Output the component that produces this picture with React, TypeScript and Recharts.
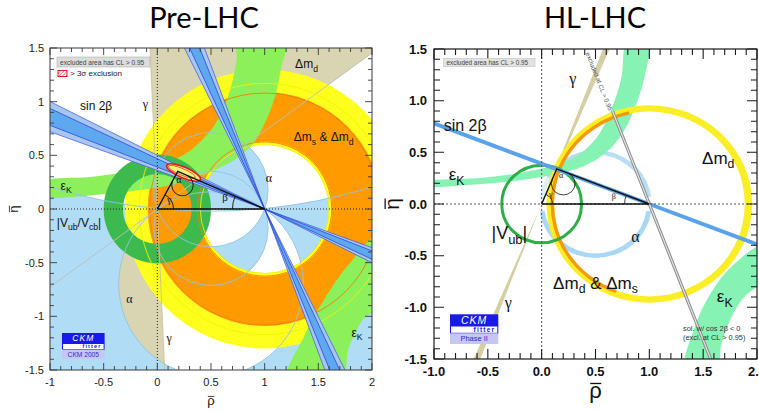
import React from 'react';
import { ComposedChart, XAxis, YAxis, ReferenceArea, Scatter } from 'recharts';

type Pt = [number, number];

// shared plot window (rho-bar, eta-bar)
const RHO_DOMAIN: Pt = [-1, 2];
const ETA_DOMAIN: Pt = [-1.5, 1.5];
const RHO_TICKS = [-1, -0.5, 0, 0.5, 1, 1.5, 2];
const ETA_TICKS = [-1.5, -1, -0.5, 0, 0.5, 1, 1.5];

// ---- Pre-LHC (CKMfitter 2005) ----
const preApex: Pt = [0.19, 0.35];
const preTriangle = [
  { rho: 0, eta: 0 },
  { rho: preApex[0], eta: preApex[1] },
  { rho: 1, eta: 0 },
  { rho: 0, eta: 0 },
];
const preGammaWedge: Pt = [36, 92.6]; // degrees seen from the origin
const preSin2Beta = [
  { dir: 156.8, outer: 3.4, inner: 1.9 },
  { dir: 113.5, outer: 3.0, inner: 1.5 },
];
const preDmd = { rIn: 0.6, rOut: 1.3 };
const preDms = { rIn: 0.63, rOut: 1.09 };
const preVub = { rIn: 0.32, rOut: 0.5 };
// alpha: circles through (0,0) and (1,0)
const preAlphaWide = { cx: 0.5, cy: -0.7, r: 0.86 };
const preAlphaFar = { cx: 0.5, cy: 5.1, r: 5.12 };
const preAlphaPair = [
  { cx: 0.5, cy: 0.18, r: 0.532 },
  { cx: 0.5, cy: -0.18, r: 0.532 },
];
const preEpsKUpper: Pt[] = [
  [-1.05, 0.265], [-0.6, 0.3], [-0.2, 0.36], [0.1, 0.44], [0.3, 0.54], [0.47, 0.7],
  [0.6, 0.9], [0.69, 1.15], [0.74, 1.4], [0.76, 1.58],
  [1.18, 1.58], [1.15, 1.3], [1.1, 1.06], [1.02, 0.84], [0.9, 0.62], [0.72, 0.46],
  [0.45, 0.33], [0.1, 0.22], [-0.4, 0.15], [-1.05, 0.108],
];
const preEpsKLower: Pt[] = [
  [1.22, -1.58], [1.36, -1.2], [1.55, -0.85], [1.78, -0.52], [2.05, -0.27],
  [2.05, -0.86], [1.9, -1.05], [1.78, -1.3], [1.7, -1.58],
];
const preExclusion = { center: [0.245, 0.34] as Pt, a: 0.17, b: 0.05, tilt: -23 };

// ---- HL-LHC (Phase II projection) ----
const hlApex: Pt = [0.14, 0.34];
const hlTriangle = [
  { rho: 0, eta: 0 },
  { rho: hlApex[0], eta: hlApex[1] },
  { rho: 1, eta: 0 },
  { rho: 0, eta: 0 },
];
const hlGamma = { dir: 68.2, half: 1.0 };
const hlSin2Beta = { dir: 158.7 };
const hlExcluded = { dir: 110.8, top: 0.9 };
const hlDmd = { rIn: 0.885, rOut: 0.955 };
const hlDms = { rIn: 0.885, rOut: 0.917, from: 102, to: 250 };
const hlVub = { r: 0.37 };
const hlAlpha = { cx: 0.5, cy: 0, rIn: 0.478, rOut: 0.522, lower: [188, 352] as Pt, upper: [8, 150] as Pt, faint: [150, 176] as Pt };
const hlEpsKUpper: Pt[] = [
  [-1.05, 0.228], [-0.6, 0.25], [-0.2, 0.3], [0.1, 0.37], [0.3, 0.45], [0.45, 0.57],
  [0.56, 0.72], [0.66, 0.95], [0.74, 1.22], [0.79, 1.58],
  [1.0, 1.58], [0.96, 1.25], [0.88, 0.97], [0.76, 0.7], [0.6, 0.5], [0.4, 0.37],
  [0.15, 0.29], [-0.2, 0.23], [-0.6, 0.19], [-1.05, 0.163],
];
const hlEpsKLower: Pt[] = [
  [1.33, -1.58], [1.42, -1.2], [1.55, -0.9], [1.75, -0.62], [2.05, -0.4],
  [2.05, -0.73], [1.88, -0.9], [1.76, -1.1], [1.67, -1.35], [1.62, -1.58],
];

const SANS = '"Liberation Sans", Arial, Helvetica, sans-serif';
const SERIF = '"Liberation Serif", "DejaVu Serif", serif';
const SKY = '#b0dcf6';
const SKY_LINE = '#93c3e4';
const TAN = '#d9d5b2';
const YELLOW = '#ffff1e';
const ORANGE = '#ff9b00';
const EPS = '#8cf05a';
const VUB = '#3dba4e';

const deg = Math.PI / 180;

type Mapper = {
  p: (r: number, e: number) => Pt;
  sx: number;
  sy: number;
  x: number;
  y: number;
  w: number;
  h: number;
};

// linear map from data to the pixel box that ReferenceArea hands us
const mapper = (x: number, y: number, w: number, h: number): Mapper => {
  const sx = w / (RHO_DOMAIN[1] - RHO_DOMAIN[0]);
  const sy = h / (ETA_DOMAIN[1] - ETA_DOMAIN[0]);
  return {
    p: (r, e) => [x + (r - RHO_DOMAIN[0]) * sx, y + (ETA_DOMAIN[1] - e) * sy],
    sx, sy, x, y, w, h,
  };
};

const n2 = (v: number) => v.toFixed(2);
const pt = (q: Pt) => `${n2(q[0])},${n2(q[1])}`;

const ellipse = (m: Mapper, cx: number, cy: number, r: number) => {
  const [X, Y] = m.p(cx, cy);
  const rx = r * m.sx;
  const ry = r * m.sy;
  return `M${n2(X + rx)},${n2(Y)}A${n2(rx)},${n2(ry)} 0 1 0 ${n2(X - rx)},${n2(Y)}A${n2(rx)},${n2(ry)} 0 1 0 ${n2(X + rx)},${n2(Y)}Z`;
};

const ring = (m: Mapper, cx: number, cy: number, r0: number, r1: number) =>
  ellipse(m, cx, cy, r1) + ellipse(m, cx, cy, r0);

const onCircle = (m: Mapper, cx: number, cy: number, r: number, a: number) =>
  m.p(cx + r * Math.cos(a * deg), cy + r * Math.sin(a * deg));

const arc = (m: Mapper, cx: number, cy: number, r: number, a0: number, a1: number) => {
  const large = a1 - a0 > 180 ? 1 : 0;
  return `M${pt(onCircle(m, cx, cy, r, a0))}A${n2(r * m.sx)},${n2(r * m.sy)} 0 ${large} 0 ${pt(onCircle(m, cx, cy, r, a1))}`;
};

const arcBand = (m: Mapper, cx: number, cy: number, r0: number, r1: number, a0: number, a1: number) => {
  const large = a1 - a0 > 180 ? 1 : 0;
  return (
    arc(m, cx, cy, r1, a0, a1) +
    `L${pt(onCircle(m, cx, cy, r0, a1))}A${n2(r0 * m.sx)},${n2(r0 * m.sy)} 0 ${large} 1 ${pt(onCircle(m, cx, cy, r0, a0))}Z`
  );
};

const wedge = (m: Mapper, apex: Pt, dir: number, half: number, len = 6) => {
  const a = m.p(apex[0], apex[1]);
  const b = m.p(apex[0] + len * Math.cos((dir - half) * deg), apex[1] + len * Math.sin((dir - half) * deg));
  const c = m.p(apex[0] + len * Math.cos((dir + half) * deg), apex[1] + len * Math.sin((dir + half) * deg));
  return `M${pt(a)}L${pt(b)}L${pt(c)}Z`;
};

const bowtie = (m: Mapper, apex: Pt, dir: number, half: number) =>
  wedge(m, apex, dir, half) + wedge(m, apex, dir + 180, half);

const ray = (m: Mapper, from: Pt, dir: number, len = 6) =>
  `M${pt(m.p(from[0], from[1]))}L${pt(m.p(from[0] + len * Math.cos(dir * deg), from[1] + len * Math.sin(dir * deg)))}`;

const fullLine = (m: Mapper, through: Pt, dir: number) =>
  ray(m, through, dir) + ray(m, through, dir + 180);

// closed Catmull-Rom outline through points read along a band's edges
const smooth = (m: Mapper, pts: Pt[]) => {
  const q = pts.map(([r, e]) => m.p(r, e));
  const n = q.length;
  let d = `M${pt(q[0])}`;
  for (let i = 0; i < n; i++) {
    const p0 = q[(i - 1 + n) % n];
    const p1 = q[i];
    const p2 = q[(i + 1) % n];
    const p3 = q[(i + 2) % n];
    const c1: Pt = [p1[0] + (p2[0] - p0[0]) / 6, p1[1] + (p2[1] - p0[1]) / 6];
    const c2: Pt = [p2[0] - (p3[0] - p1[0]) / 6, p2[1] - (p3[1] - p1[1]) / 6];
    d += `C${pt(c1)} ${pt(c2)} ${pt(p2)}`;
  }
  return d + 'Z';
};

const dirTo = (a: Pt, b: Pt) => Math.atan2(b[1] - a[1], b[0] - a[0]) / deg;

type Part = string | { sub: string };

const Label = ({
  m, at, parts, size = 12, family = SANS, anchor = 'middle', color = '#111',
}: {
  m: Mapper; at: Pt; parts: Part[]; size?: number; family?: string; anchor?: 'start' | 'middle' | 'end'; color?: string;
}) => {
  const [X, Y] = m.p(at[0], at[1]);
  const shift = size * 0.28;
  let low = false;
  return (
    <text x={X} y={Y} dy={size * 0.35} fontSize={size} textAnchor={anchor} fill={color} fontFamily={family}>
      {parts.map((p, i) => {
        if (typeof p === 'string') {
          const dy = low ? -shift : 0;
          low = false;
          return <tspan key={i} dy={dy}>{p}</tspan>;
        }
        const dy = low ? 0 : shift;
        low = true;
        return <tspan key={i} dy={dy} fontSize={size * 0.72}>{p.sub}</tspan>;
      })}
    </text>
  );
};

// frame with inward ticks on all four sides
const Frame = ({ m, color, width, minor, major }: { m: Mapper; color: string; width: number; minor: number; major: number }) => {
  let d = '';
  for (let i = -10; i <= 20; i++) {
    const len = i % 5 === 0 ? major : minor;
    const [X] = m.p(i / 10, 0);
    d += `M${n2(X)},${n2(m.y + m.h)}v${-len}M${n2(X)},${n2(m.y)}v${len}`;
  }
  for (let i = -15; i <= 15; i++) {
    const len = i % 5 === 0 ? major : minor;
    const [, Y] = m.p(0, i / 10);
    d += `M${n2(m.x)},${n2(Y)}h${len}M${n2(m.x + m.w)},${n2(Y)}h${-len}`;
  }
  return (
    <g>
      <path d={d} stroke={color} strokeWidth={width * 0.9} fill="none" />
      <rect x={m.x} y={m.y} width={m.w} height={m.h} stroke={color} strokeWidth={width} fill="none" />
    </g>
  );
};

// letter with a bar over it, optionally turned on its side
const Barred = ({ x, y, ch, size, rotate = 0 }: { x: number; y: number; ch: string; size: number; rotate?: number }) => (
  <g transform={`rotate(${rotate} ${x} ${y})`}>
    <text x={x} y={y} fontSize={size} textAnchor="middle" fontFamily={SANS} fill="#111">{ch}</text>
    <line x1={x - size * 0.24} x2={x + size * 0.26} y1={y - size * 0.66} y2={y - size * 0.66} stroke="#111" strokeWidth={size * 0.06} />
  </g>
);

const Logo = ({ x, y, w, h1, h2, h3, footer, big }: { x: number; y: number; w: number; h1: number; h2: number; h3: number; footer: string; big: number }) => (
  <g fontFamily={SANS}>
    <rect x={x} y={y} width={w} height={h1} fill="#1a1ae8" />
    <text x={x + w / 2} y={y + h1 * 0.8} fontSize={big} fontStyle="italic" fill="#fff" textAnchor="middle" letterSpacing={1}>CKM</text>
    <rect x={x + 0.5} y={y + h1} width={w - 1} height={h2} fill="#fff" stroke="#1a1ae8" strokeWidth={1} />
    <text x={x + w - 3} y={y + h1 + h2 * 0.8} fontSize={h2 * 0.9} fontWeight="bold" fill="#1a1ae8" textAnchor="end" letterSpacing={1.2}>fitter</text>
    <rect x={x} y={y + h1 + h2} width={w} height={h3} fill="#c6c6f4" />
    <text x={x + w / 2} y={y + h1 + h2 + h3 * 0.75} fontSize={h3 * 0.7} fill="#2a2ad8" textAnchor="middle">{footer}</text>
  </g>
);

const PreLhcPlot = (props: any) => {
  const { x, y, width, height } = props;
  const m = mapper(x, y, width, height);
  const [, oy] = m.p(0, 0);
  const up = `M${n2(x)},${n2(y)}H${n2(x + width)}V${n2(oy)}H${n2(x)}Z`;
  const down = `M${n2(x)},${n2(oy)}H${n2(x + width)}V${n2(y + height)}H${n2(x)}Z`;
  const pair = preAlphaPair.map((c) => ellipse(m, c.cx, c.cy, c.r)).join('');
  const gMid = (preGammaWedge[0] + preGammaWedge[1]) / 2;
  const gHalf = (preGammaWedge[1] - preGammaWedge[0]) / 2;
  const toOrigin = dirTo(preApex, [0, 0]);
  const toOne = dirTo(preApex, [1, 0]) + 360;
  const ex = m.p(preExclusion.center[0], preExclusion.center[1]);
  const upperDisk = preAlphaPair[0];
  return (
    <g fontFamily={SANS}>
      <defs>
        <clipPath id="pre-clip"><rect x={x} y={y} width={width} height={height} /></clipPath>
        <clipPath id="pre-up"><path d={up} /></clipPath>
        <clipPath id="pre-down"><path d={down} /></clipPath>
        <pattern id="pre-hatch" width={2.5} height={2.5} patternUnits="userSpaceOnUse" patternTransform="rotate(45)">
          <rect width={2.5} height={2.5} fill="#fff" />
          <line x1={0} y1={0} x2={0} y2={2.5} stroke="#ee3030" strokeWidth={1} />
        </pattern>
      </defs>
      <rect x={x} y={y} width={width} height={height} fill="#fff" />
      <g clipPath="url(#pre-clip)">
        {/* gamma */}
        <path d={bowtie(m, [0, 0], gMid, gHalf)} fill={TAN} />
        {/* alpha */}
        <g clipPath="url(#pre-up)">
          <path d={up + ellipse(m, preAlphaFar.cx, preAlphaFar.cy, preAlphaFar.r)} fillRule="evenodd" fill={SKY} />
          <path d={ellipse(m, upperDisk.cx, upperDisk.cy, upperDisk.r)} fill={SKY} />
        </g>
        <g clipPath="url(#pre-down)">
          <path d={down + ellipse(m, preAlphaWide.cx, preAlphaWide.cy, preAlphaWide.r)} fillRule="evenodd" fill={SKY} />
          <path d={pair} fillRule="evenodd" fill={SKY} />
        </g>
        {/* Delta m_d and Delta m_s & Delta m_d */}
        <path d={ring(m, 1, 0, preDmd.rIn, preDmd.rOut)} fillRule="evenodd" fill={YELLOW} />
        <path d={ring(m, 1, 0, preDms.rIn, preDms.rOut)} fillRule="evenodd" fill={ORANGE} />
        {/* epsilon_K */}
        <path d={smooth(m, preEpsKUpper)} fill={EPS} />
        <path d={smooth(m, preEpsKLower)} fill={EPS} />
        {/* |Vub/Vcb| */}
        <path d={ring(m, 0, 0, preVub.rIn, preVub.rOut)} fillRule="evenodd" fill={VUB} />
        {/* contour lines */}
        <g fill="none" strokeWidth={0.9}>
          <path d={ellipse(m, 1, 0, 1.17)} stroke="#f4f000" />
          <path d={ellipse(m, 1, 0, 0.6)} stroke="#f4f000" />
          <path d={ellipse(m, 1, 0, 1.07)} stroke="#f08000" />
          <path d={ellipse(m, 1, 0, 0.625)} stroke="#f08000" />
          <path d={ellipse(m, preAlphaWide.cx, preAlphaWide.cy, preAlphaWide.r)} stroke={SKY_LINE} />
          <path d={ellipse(m, preAlphaFar.cx, preAlphaFar.cy, preAlphaFar.r)} stroke={SKY_LINE} />
          <path d={pair} stroke={SKY_LINE} />
          <path d={fullLine(m, [0, 0], preGammaWedge[0])} stroke="#b8c0bc" />
          <path d={fullLine(m, [0, 0], preGammaWedge[1])} stroke="#c8c2a0" />
        </g>
        {/* sin 2beta */}
        {preSin2Beta.map((b, i) => (
          <g key={i}>
            <path d={bowtie(m, [1, 0], b.dir, b.outer)} fill="#a8c6f2" stroke="#3a56e0" strokeWidth={0.7} />
            <path d={bowtie(m, [1, 0], b.dir, b.inner)} fill="#5ea8f0" stroke="#2238d0" strokeWidth={0.7} />
          </g>
        ))}
        {/* > 3 sigma region around the apex */}
        <g transform={`rotate(${-preExclusion.tilt} ${n2(ex[0])} ${n2(ex[1])})`}>
          <ellipse cx={ex[0]} cy={ex[1]} rx={preExclusion.a * m.sx} ry={preExclusion.b * m.sy} fill="#f3f27a" stroke="#e81818" strokeWidth={1.6} />
          <ellipse cx={ex[0] - 2} cy={ex[1]} rx={preExclusion.a * m.sx * 0.8} ry={preExclusion.b * m.sy * 0.62} fill="none" stroke="#e84040" strokeWidth={0.8} />
        </g>
        {/* axes through the origin */}
        <path d={`M${n2(x)},${n2(oy)}H${n2(x + width)}`} stroke="#222" strokeWidth={1} strokeDasharray="1 2" />
        <path d={`M${n2(m.p(0, 0)[0])},${n2(y)}V${n2(y + height)}`} stroke="#222" strokeWidth={1} strokeDasharray="1 2" />
        {/* angle marks */}
        <g fill="none" stroke="#111" strokeWidth={0.9}>
          <path d={arc(m, 0, 0, 0.15, 0, dirTo([0, 0], preApex))} />
          <path d={arc(m, preApex[0], preApex[1], 0.1, toOrigin, toOne)} />
          <path d={arc(m, 1, 0, 0.3, 180 + dirTo(preApex, [1, 0]), 180)} />
        </g>
        <Label m={m} at={[0.2, 0.24]} parts={['α']} size={10} family={SERIF} />
        <Label m={m} at={[0.11, 0.06]} parts={['γ']} size={10} family={SERIF} />
        <Label m={m} at={[0.63, 0.07]} parts={['β']} size={11} family={SERIF} />
        {/* constraint names */}
        <Label m={m} at={[-0.57, 0.92]} parts={['sin 2β']} size={12} />
        <Label m={m} at={[-0.11, 0.94]} parts={['γ']} size={12} family={SERIF} />
        <Label m={m} at={[-0.85, 0.18]} parts={['ε', { sub: 'K' }]} size={12} />
        <Label m={m} at={[1.39, 1.31]} parts={['Δm', { sub: 'd' }]} size={12} />
        <Label m={m} at={[1.55, 0.63]} parts={['Δm', { sub: 's' }, ' & Δm', { sub: 'd' }]} size={12} />
        <Label m={m} at={[1.04, 0.25]} parts={['α']} size={12} family={SERIF} />
        <Label m={m} at={[-0.73, -0.165]} parts={['|V', { sub: 'ub' }, '/V', { sub: 'cb' }, '|']} size={12} />
        <Label m={m} at={[-0.26, -0.88]} parts={['α']} size={12} family={SERIF} />
        <Label m={m} at={[0.11, -1.24]} parts={['γ']} size={12} family={SERIF} />
        <Label m={m} at={[1.86, -1.19]} parts={['ε', { sub: 'K' }]} size={12} />
      </g>
      <Frame m={m} color="#3a3a3a" width={1} minor={4} major={7} />
      {/* legend */}
      <rect x={x + 7} y={y + 9} width={93} height={10} fill="#dcdcdc" stroke="#b0b0b0" strokeWidth={0.6} />
      <text x={x + 10} y={y + 16.6} fontSize={6.6} fill="#444">excluded area has CL &gt; 0.95</text>
      <rect x={x + 8} y={y + 22.5} width={9} height={6} fill="url(#pre-hatch)" stroke="#e81818" strokeWidth={1} />
      <text x={x + 20} y={y + 28.3} fontSize={8} fill="#222">&gt; 3σ exclusion</text>
      <Logo x={x + 12} y={y + 285} w={42.6} h1={10.5} h2={6} h3={9.5} footer="CKM 2005" big={8.5} />
      {/* axis titles and panel title */}
      <Barred x={x + width / 2} y={y + height + 35} ch="ρ" size={13} />
      <Barred x={18} y={y + height / 2} ch="η" size={13} rotate={-90} />
      <text x={204} y={28} fontSize={29} fontFamily="Lato, 'Open Sans', sans-serif" textAnchor="middle" fill="#000">Pre-LHC</text>
    </g>
  );
};

const HlLhcPlot = (props: any) => {
  const { x, y, width, height } = props;
  const m = mapper(x, y, width, height);
  const [ox, oy] = m.p(0, 0);
  const toOrigin = dirTo(hlApex, [0, 0]);
  const toOne = dirTo(hlApex, [1, 0]) + 360;
  const exTop: Pt = [1 + hlExcluded.top / Math.tan(hlExcluded.dir * deg), hlExcluded.top];
  const exPath = `M${pt(m.p(exTop[0], exTop[1]))}L${pt(m.p(1, 0))}` + ray(m, [1, 0], hlExcluded.dir + 180);
  const textStart = m.p(0.425, 1.465);
  const textAngle = Math.atan2(-Math.sin(hlExcluded.dir * deg) * m.sy, Math.cos(hlExcluded.dir * deg) * m.sx) / deg + 180;
  return (
    <g fontFamily={SANS}>
      <defs>
        <clipPath id="hl-clip"><rect x={x} y={y} width={width} height={height} /></clipPath>
      </defs>
      <rect x={x} y={y} width={width} height={height} fill="#fff" />
      <g clipPath="url(#hl-clip)">
        {/* alpha */}
        <path d={arcBand(m, hlAlpha.cx, hlAlpha.cy, hlAlpha.rIn, hlAlpha.rOut, hlAlpha.lower[0], hlAlpha.lower[1])} fill="#a9d8f6" />
        <path d={arcBand(m, hlAlpha.cx, hlAlpha.cy, hlAlpha.rIn, hlAlpha.rOut, hlAlpha.upper[0], hlAlpha.upper[1])} fill="#b8def6" />
        <path d={arcBand(m, hlAlpha.cx, hlAlpha.cy, hlAlpha.rIn, hlAlpha.rOut, hlAlpha.faint[0], hlAlpha.faint[1])} fill="#b8def6" opacity={0.45} />
        {/* epsilon_K */}
        <path d={smooth(m, hlEpsKUpper)} fill="#86f2b4" />
        <path d={smooth(m, hlEpsKLower)} fill="#86f2b4" />
        {/* gamma */}
        <path d={bowtie(m, [0, 0], hlGamma.dir, hlGamma.half)} fill="#d4cea4" />
        {/* Delta m_d, Delta m_d & Delta m_s */}
        <path d={ring(m, 1, 0, hlDmd.rIn, hlDmd.rOut)} fillRule="evenodd" fill="#faef26" />
        <path d={arcBand(m, 1, 0, hlDms.rIn, hlDms.rOut, hlDms.from, hlDms.to)} fill="#f48a00" opacity={0.85} />
        {/* |Vub| */}
        <path d={ellipse(m, 0, 0, hlVub.r)} fill="none" stroke="#2fae47" strokeWidth={3} />
        {/* sin 2beta */}
        <path d={fullLine(m, [1, 0], hlSin2Beta.dir)} stroke="#5aa2ea" strokeWidth={4} />
        {/* cos 2beta < 0 solution, excluded */}
        <path d={exPath} stroke="#8c8c8c" strokeWidth={3.2} fill="none" />
        <path d={exPath} stroke="#e2e2e2" strokeWidth={1.2} fill="none" />
        <text x={textStart[0]} y={textStart[1]} fontSize={6.4} fill="#555" transform={`rotate(${n2(textAngle)} ${n2(textStart[0])} ${n2(textStart[1])})`} dy={2}>excluded at CL &gt; 0.95</text>
        {/* axes through the origin */}
        <path d={`M${n2(x)},${n2(oy)}H${n2(x + width)}`} stroke="#555" strokeWidth={1} strokeDasharray="2 2" />
        <path d={`M${n2(ox)},${n2(y)}V${n2(y + height)}`} stroke="#555" strokeWidth={1} strokeDasharray="2 2" />
        {/* angle marks */}
        <g fill="none" stroke="#111" strokeWidth={0.8}>
          <path d={arc(m, 0, 0, 0.1, 0, dirTo([0, 0], hlApex))} />
          <path d={arc(m, hlApex[0], hlApex[1], 0.11, toOrigin, toOne)} />
          <path d={arc(m, 1, 0, 0.23, 180 + dirTo(hlApex, [1, 0]), 180)} />
        </g>
        <Label m={m} at={[0.18, 0.255]} parts={['α']} size={8} family={SERIF} />
        <Label m={m} at={[0.085, 0.07]} parts={['γ']} size={8} family={SERIF} />
        <Label m={m} at={[0.67, 0.045]} parts={['β']} size={8} family={SERIF} />
        {/* constraint names */}
        <Label m={m} at={[-0.71, 0.71]} parts={['sin 2β']} size={16} />
        <Label m={m} at={[-0.79, 0.23]} parts={['ε', { sub: 'K' }]} size={17} />
        <Label m={m} at={[0.29, 1.16]} parts={['γ']} size={16} family={SERIF} />
        <Label m={m} at={[1.64, 0.39]} parts={['Δm', { sub: 'd' }]} size={17} />
        <Label m={m} at={[-0.3, -0.34]} parts={['|V', { sub: 'ub' }, '|']} size={18} />
        <Label m={m} at={[-0.31, -1.01]} parts={['γ']} size={16} family={SERIF} />
        <Label m={m} at={[0.87, -0.37]} parts={['α']} size={16} family={SERIF} />
        <Label m={m} at={[0.5, -0.82]} parts={['Δm', { sub: 'd' }, ' & Δm', { sub: 's' }]} size={17} />
        <Label m={m} at={[1.7, -0.95]} parts={['ε', { sub: 'K' }]} size={17} />
      </g>
      <Frame m={m} color="#1a1a1a" width={1.2} minor={6} major={10} />
      {/* legend, notes, logo */}
      <rect x={x + 9.3} y={y + 9.3} width={91.7} height={8.4} fill="#e2e2e2" stroke="#c4c4c4" strokeWidth={0.6} />
      <text x={x + 12.5} y={y + 16} fontSize={6.4} fill="#444">excluded area has CL &gt; 0.95</text>
      <text x={x + 249} y={y + 281.5} fontSize={7.4} fill="#333">sol. w/ cos 2β &lt; 0</text>
      <text x={x + 249} y={y + 290.5} fontSize={7.4} fill="#333">(excl. at CL &gt; 0.95)</text>
      <Logo x={x + 16} y={y + 265.3} w={48.3} h1={11.7} h2={7.3} h3={10.7} footer="Phase II" big={10.5} />
      {/* axis titles and panel title */}
      <Barred x={x + width / 2} y={398} ch="ρ" size={22} />
      <Barred x={19} y={oy} ch="η" size={21} rotate={-90} />
      <text x={215} y={28} fontSize={29} fontFamily="Lato, 'Open Sans', sans-serif" textAnchor="middle" fill="#000">HL-LHC</text>
    </g>
  );
};

const Panel = ({
  left, width, margin, yWidth, xHeight, tickStyle, format, yMargin, xMargin, triangle, plot,
}: {
  left: number; width: number; margin: { top: number; right: number; bottom: number; left: number };
  yWidth: number; xHeight: number; tickStyle: object; format: (v: number) => string;
  yMargin: number; xMargin: number; triangle: { rho: number; eta: number }[]; plot: (p: any) => React.ReactElement;
}) => (
  <div style={{ position: 'absolute', left, top: 0 }}>
    <ComposedChart width={width} height={412} margin={margin} data={triangle}>
      <XAxis
        type="number" dataKey="rho" domain={RHO_DOMAIN} ticks={RHO_TICKS} interval={0} allowDataOverflow
        height={xHeight} tickLine={false} axisLine={false} tickSize={0} tickMargin={xMargin}
        tick={tickStyle} tickFormatter={format}
      />
      <YAxis
        type="number" dataKey="eta" domain={ETA_DOMAIN} ticks={ETA_TICKS} interval={0} allowDataOverflow
        width={yWidth} tickLine={false} axisLine={false} tickSize={0} tickMargin={yMargin}
        tick={tickStyle} tickFormatter={format}
      />
      <ReferenceArea x1={RHO_DOMAIN[0]} x2={RHO_DOMAIN[1]} y1={ETA_DOMAIN[0]} y2={ETA_DOMAIN[1]} ifOverflow="visible" shape={plot} />
      <Scatter data={triangle} line={{ stroke: '#111', strokeWidth: 1.4 }} shape={() => <g />} isAnimationActive={false} />
    </ComposedChart>
  </div>
);

export default function App() {
  return (
    <div style={{ position: 'absolute', left: 0, top: 0, width: 759, height: 412, background: '#fff', overflow: 'hidden' }}>
      <Panel
        left={0} width={380} margin={{ top: 48, right: 8, bottom: 0, left: 0 }} yWidth={50} xHeight={42}
        tickStyle={{ fontSize: 11, fill: '#222', fontFamily: SANS }} format={(v) => String(v)}
        yMargin={6} xMargin={8} triangle={preTriangle} plot={(p) => <PreLhcPlot {...p} />}
      />
      <Panel
        left={380} width={379} margin={{ top: 49, right: 2, bottom: 0, left: 0 }} yWidth={54} xHeight={53}
        tickStyle={{ fontSize: 13, fill: '#111', fontFamily: SANS, fontWeight: 'bold' }} format={(v) => v.toFixed(1)}
        yMargin={7} xMargin={8} triangle={hlTriangle} plot={(p) => <HlLhcPlot {...p} />}
      />
    </div>
  );
}
